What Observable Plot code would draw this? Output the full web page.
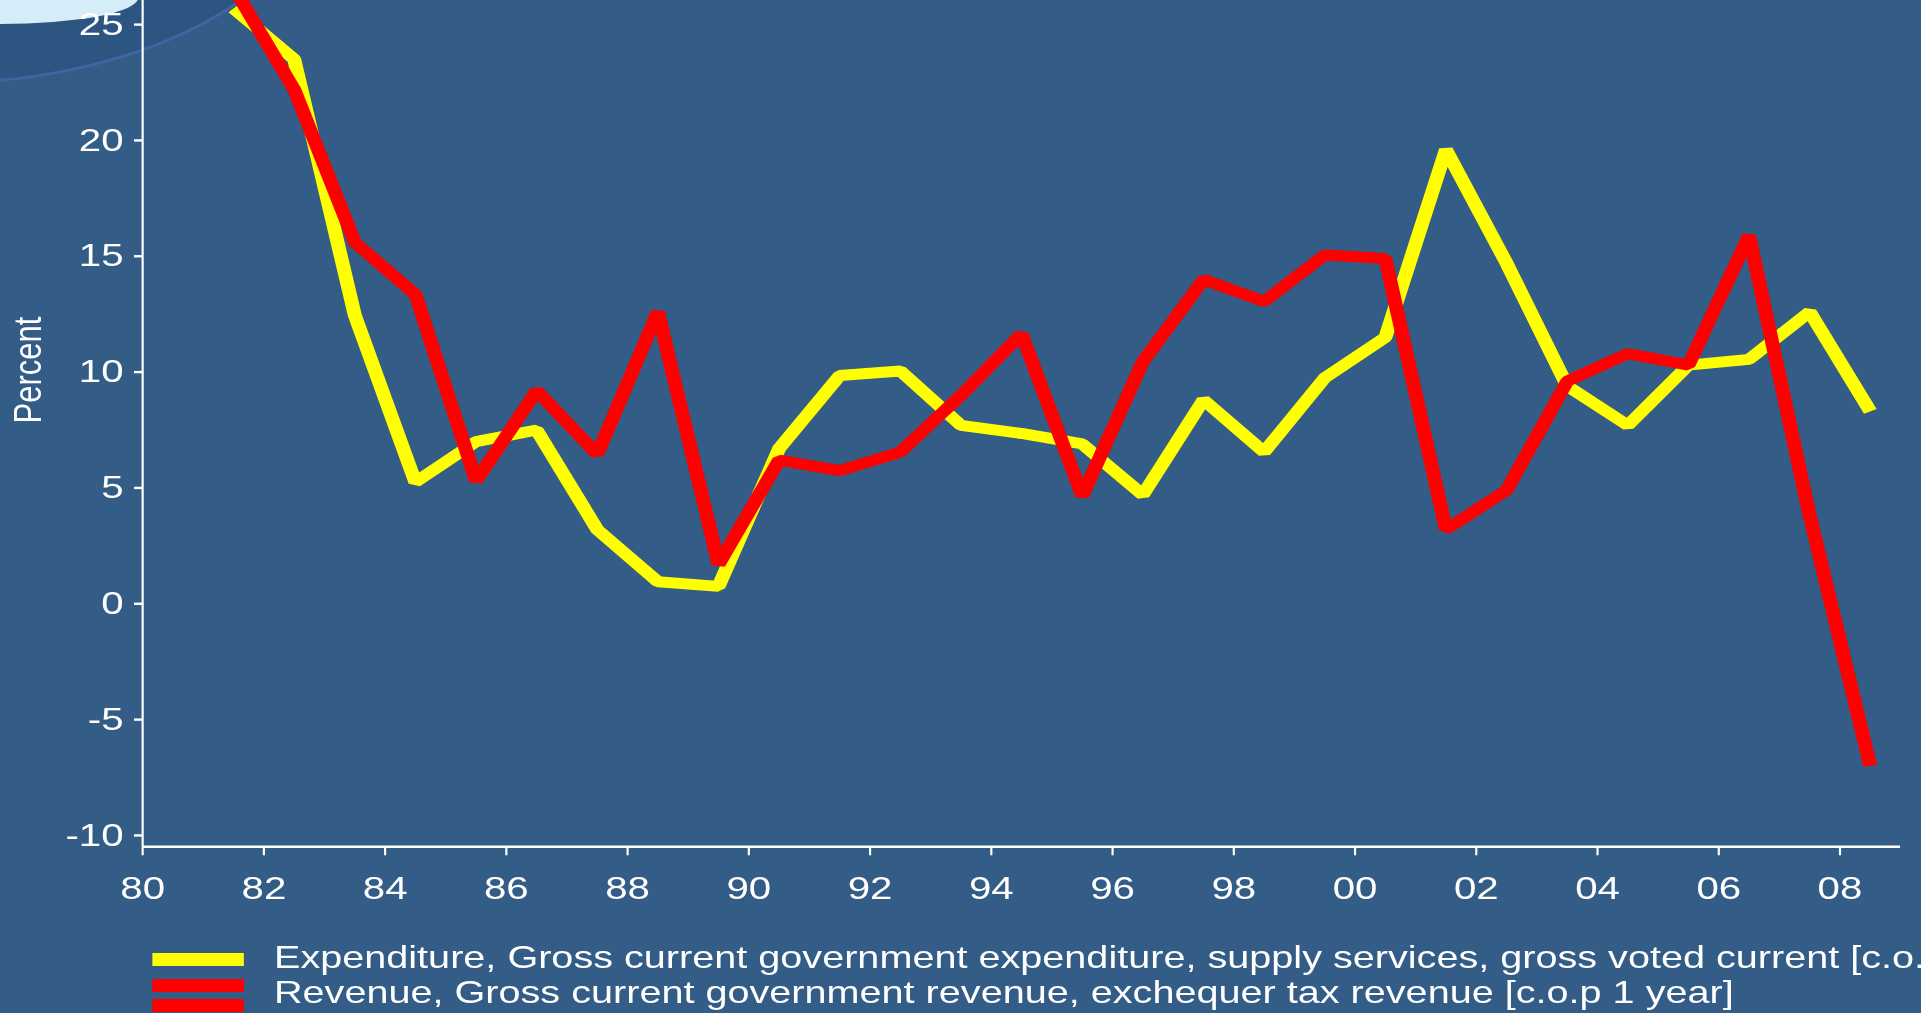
<!DOCTYPE html>
<html>
<head>
<meta charset="utf-8">
<script src="https://cdn.jsdelivr.net/npm/d3@7"></script>
<script src="https://cdn.jsdelivr.net/npm/@observablehq/plot@0.6"></script>
<style>
  html, body { margin: 0; padding: 0; }
  body { width: 1921px; height: 1013px; overflow: hidden; background: #335c86; position: relative;
         font-family: "Liberation Sans", Arial, sans-serif; color: white; }
  #deco { position: absolute; left: 0; top: 0; z-index: 0; }
  #wrap { position: absolute; left: 0; top: 0; height: 1013px; transform-origin: 0 0; z-index: 1; }
  #wrap svg { position: absolute; left: 0; top: 0; background: transparent; }
  .ylab { position: absolute; white-space: nowrap; font-size: 31px; transform: translate(-50%, -50%) rotate(-90deg); }
  .sw { position: absolute; height: 13px; }
  .lt { position: absolute; white-space: nowrap; font-size: 31.2px; line-height: 35px; }
</style>
</head>
<body>
<svg id="deco" width="1921" height="1013">
  <ellipse cx="-60" cy="-150" rx="394" ry="233" fill="#2c5581" stroke="#3e66a3" stroke-width="3"></ellipse>
  <ellipse cx="0" cy="-2" rx="138" ry="26" fill="#d4edf9"></ellipse>
</svg>
<div id="wrap"></div>
<script>
// ---- data ----
const years = [1981,1982,1983,1984,1985,1986,1987,1988,1989,1990,1991,1992,1993,1994,1995,1996,1997,1998,1999,2000,2001,2002,2003,2004,2005,2006,2007,2008];
const expenditure = [25.7,23.5,12.45,5.25,7.0,7.5,3.2,0.95,0.75,6.7,9.85,10.05,7.7,7.35,6.9,4.7,8.8,6.55,9.75,11.5,19.6,14.7,9.4,7.7,10.3,10.55,12.6,8.3];
const revenue = [26.6,22.2,15.6,13.35,5.3,9.2,6.45,12.6,1.7,6.2,5.75,6.55,9.0,11.65,4.65,10.45,14.0,13.05,15.05,14.9,3.2,4.9,9.6,10.8,10.3,15.9,3.8,-7.0];
const xTicks = [1980,1982,1984,1986,1988,1990,1992,1994,1996,1998,2000,2002,2004,2006,2008];
const yTicks = [-10,-5,0,5,10,15,20,25];
const xDomain = [1980, 2009];
const yDomain = [-10.49, 26.04];
const seriesNames = [
  "Expenditure, Gross current government expenditure, supply services, gross voted current [c.o.p 1 year]",
  "Revenue, Gross current government revenue, exchequer tax revenue [c.o.p 1 year]"
];
const seriesColors = ["#ffff00", "#ff0000"];
const yLabel = "Percent";

// ---- layout ----
const s = 1.27;               // horizontal stretch of the original picture
const W = 1921 / s;
const H = 940;
const rows = years.map((y, i) => ({t: y + 0.5, expenditure: expenditure[i], revenue: revenue[i]}));

const wrap = document.getElementById("wrap");
wrap.style.width = W + "px";
wrap.style.transform = `scaleX(${s})`;

const chart = Plot.plot({
  width: W,
  height: H,
  marginLeft: 142 / s,
  marginRight: W - 1900 / s,
  marginTop: 0,
  marginBottom: H - 846.3,
  style: {background: "transparent", color: "white", fontFamily: "'Liberation Sans', Arial, sans-serif", fontSize: "31.7px"},
  x: {domain: xDomain},
  y: {domain: yDomain},
  marks: [
    Plot.ruleY([yDomain[0]], {stroke: "white", strokeWidth: 2.6}),
    Plot.ruleX([xDomain[0]], {stroke: "white", strokeWidth: 1.7}),
    Plot.axisX({ticks: xTicks, tickFormat: d => String(d % 100).padStart(2, "0"), tickSize: 9, tickPadding: 21, strokeWidth: 1.7, label: null}),
    Plot.axisY({ticks: yTicks, tickFormat: d => String(d), tickSize: 6.3, tickPadding: 8.7, strokeWidth: 2.4, label: null}),
    Plot.line(rows, {x: "t", y: "expenditure", stroke: seriesColors[0], strokeWidth: 11, strokeLinecap: "butt", strokeLinejoin: "miter", clip: true}),
    Plot.line(rows, {x: "t", y: "revenue", stroke: seriesColors[1], strokeWidth: 11, strokeLinecap: "butt", strokeLinejoin: "miter", clip: true})
  ]
});
wrap.appendChild(chart);

// y label
const yl = document.createElement("div");
yl.className = "ylab";
yl.textContent = yLabel;
yl.style.left = (28 / s) + "px";
yl.style.top = "370px";
wrap.appendChild(yl);

// legend
const swatches = [
  {color: seriesColors[0], top: 953},
  {color: seriesColors[1], top: 979},
  {color: seriesColors[1], top: 999}
];
for (const sw of swatches) {
  const d = document.createElement("div");
  d.className = "sw";
  d.style.left = (152 / s) + "px";
  d.style.width = (92 / s) + "px";
  d.style.top = sw.top + "px";
  d.style.background = sw.color;
  wrap.appendChild(d);
}
seriesNames.forEach((name, i) => {
  const t = document.createElement("div");
  t.className = "lt";
  t.textContent = name;
  t.style.left = (274 / s) + "px";
  t.style.top = (940 + i * 35) + "px";
  wrap.appendChild(t);
});
</script>
</body>
</html>
